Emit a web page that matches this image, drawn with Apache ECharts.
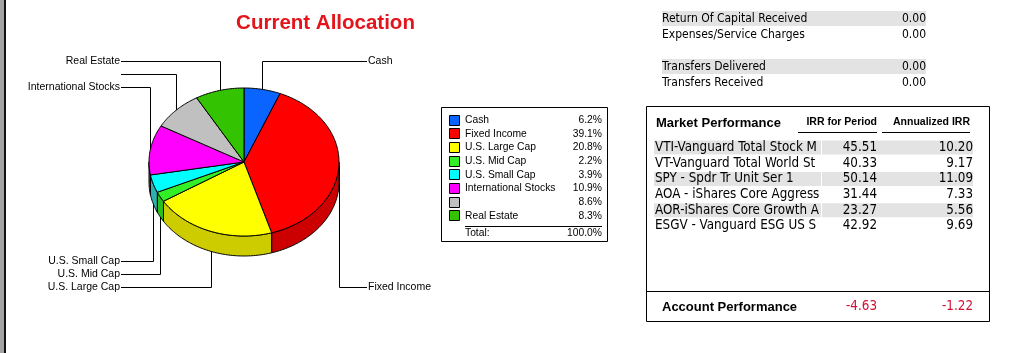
<!DOCTYPE html>
<html><head><meta charset="utf-8">
<script src="https://cdn.jsdelivr.net/npm/echarts@6/dist/echarts.min.js"></script>
<style>html,body{margin:0;padding:0;background:#fff;overflow:hidden}#c{width:1032px;height:353px}</style>
</head><body><div id="c"></div>
<script>
// ---------- data ----------
const categories = ['Cash', 'Fixed Income', 'U.S. Large Cap', 'U.S. Mid Cap', 'U.S. Small Cap', 'International Stocks', '', 'Real Estate'];
const allocation = [6.2, 39.1, 20.8, 2.2, 3.9, 10.9, 8.6, 8.3];
const sliceColors = ['#0A64FF', '#FF0000', '#FFFF00', '#33F026', '#00FFFF', '#FF00FF', '#C0C0C0', '#33C300'];
const sideColors  = ['#0850CC', '#CC0000', '#CCCC00', '#28C01E', '#2FB0B0', '#CC00CC', '#9A9A9A', '#289C00'];

const incomeLabels = ['Return Of Capital Received', 'Expenses/Service Charges', 'Transfers Delivered', 'Transfers Received'];
const incomeValues = [0.00, 0.00, 0.00, 0.00];

const holdings = ['VTI-Vanguard Total Stock Mar', 'VT-Vanguard Total World Sto', 'SPY - Spdr Tr Unit Ser 1', 'AOA - iShares Core Aggressive', 'AOR-iShares Core Growth Al', 'ESGV - Vanguard ESG US Sto'];
const irrPeriod = [45.51, 40.33, 50.14, 31.44, 23.27, 42.92];
const irrAnnual = [10.20, 9.17, 11.09, 7.33, 5.56, 9.69];
const accountIrr = [-4.63, -1.22];

// ---------- derived ----------
const total = allocation.reduce((a, b) => a + b, 0);
const startAngles = [];
(function () { let acc = 0; allocation.forEach(v => { startAngles.push(acc / total * 360); acc += v; }); })();
const mids = allocation.map((v, i) => startAngles[i] + v / total * 180);
const leaderInfo = mids.map((m, i) => {
  const r = m * Math.PI / 180;
  const up = Math.cos(r) >= 0;
  return { i, up, left: Math.sin(r) < 0, dist: up ? Math.min(m, 360 - m) : Math.abs(m - 180) };
});
leaderInfo.forEach(a => {
  a.rank = leaderInfo.filter(b => b.up === a.up && b.left === a.left && b.dist < a.dist).length;
});

// ---------- layout/style ----------
const DEPTH = 20;
const LEAD = { upperY: 61, lowerY: 287, step: 13, leftX: 121, rightX: 367 };
const F_SMALL = '10.5px "Liberation Sans", Arial, sans-serif';
const F_LEG = '10.3px "Liberation Sans", Arial, sans-serif';
const F_TAB = '12px "DejaVu Sans Condensed", "DejaVu Sans", sans-serif';
const F_ROW = '13.3px "DejaVu Sans Condensed", "DejaVu Sans", sans-serif';
const F_HEAD = 'bold 13px "Liberation Sans", Arial, sans-serif';
const F_COL = 'bold 10.5px "Liberation Sans", Arial, sans-serif';
const ROWBG = '#E3E3E3';

const chart = echarts.init(document.getElementById('c'));

function renderSlice(params, api) {
  const i = params.dataIndex;
  const a1 = startAngles[i];
  const a2 = a1 + api.value(2) / total * 360;
  const P = deg => { const r = deg * Math.PI / 180; return api.coord([Math.sin(r), Math.cos(r)]); };
  const c = api.coord([0, 0]);
  const children = [];
  // top face
  const pts = [c];
  for (let d = a1; d < a2; d += 1) pts.push(P(d));
  pts.push(P(a2));
  children.push({ type: 'polygon', z2: 3, shape: { points: pts },
    style: { fill: sliceColors[i], stroke: '#000', lineWidth: 1 } });
  // side wall (front half only)
  const s1 = Math.max(a1, 90), s2 = Math.min(a2, 270);
  if (s2 > s1) {
    const arc = [];
    for (let d = s1; d < s2; d += 1) arc.push(P(d));
    arc.push(P(s2));
    const side = arc.concat(arc.slice().reverse().map(p => [p[0], p[1] + DEPTH]));
    children.push({ type: 'polygon', z2: 2, shape: { points: side },
      style: { fill: sideColors[i], stroke: '#000', lineWidth: 1 } });
  }
  // leader line + label
  const info = leaderInfo[i];
  const anchor = P(mids[i]);
  const ax = Math.round(anchor[0]) + 0.5;
  const ly = Math.round(info.up ? LEAD.upperY + info.rank * LEAD.step : LEAD.lowerY - info.rank * LEAD.step) + 0.5;
  const ex = info.left ? LEAD.leftX : LEAD.rightX;
  children.push({ type: 'polyline', z2: 0, shape: { points: [[ax, anchor[1]], [ax, ly], [ex, ly]] },
    style: { stroke: '#000', lineWidth: 1, fill: null } });
  children.push({ type: 'text', z2: 0, style: {
    text: categories[i], x: info.left ? ex - 1 : ex + 1, y: ly,
    align: info.left ? 'right' : 'left', verticalAlign: 'middle', font: F_SMALL, fill: '#000' } });
  return { type: 'group', children };
}

// ---------- graphic elements (legend box and tables) ----------
const g = [];
// left border
g.push({ type: 'rect', shape: { x: 0, y: 0, width: 4, height: 353 }, style: { fill: '#A3A3A3' } });
g.push({ type: 'rect', shape: { x: 4, y: 0, width: 2, height: 353 }, style: { fill: '#111' } });
// title
g.push({ type: 'text', x: 325.5, y: 23.5, style: { text: 'Current Allocation', align: 'center', verticalAlign: 'middle',
  font: 'bold 20.5px "Liberation Sans", Arial, sans-serif', fill: '#E3141B' } });

// legend box
g.push({ type: 'rect', shape: { x: 441.5, y: 107.5, width: 166, height: 134 }, style: { fill: 'none', stroke: '#000', lineWidth: 1 } });
categories.forEach((name, i) => {
  const y = 120 + i * 13.67;
  g.push({ type: 'rect', shape: { x: 449.5, y: Math.round(y - 5.5) + 0.5, width: 10, height: 10 },
    style: { fill: sliceColors[i], stroke: '#000', lineWidth: 1 } });
  g.push({ type: 'text', x: 465, y: y, style: { text: name, align: 'left', verticalAlign: 'middle', font: F_LEG, fill: '#000' } });
  g.push({ type: 'text', x: 602, y: y, style: { text: allocation[i].toFixed(1) + '%', align: 'right', verticalAlign: 'middle', font: F_LEG, fill: '#000' } });
});
g.push({ type: 'line', shape: { x1: 465, y1: 226.5, x2: 602, y2: 226.5 }, style: { stroke: '#000', lineWidth: 1 } });
g.push({ type: 'text', x: 465, y: 233, style: { text: 'Total:', align: 'left', verticalAlign: 'middle', font: F_LEG, fill: '#000' } });
g.push({ type: 'text', x: 602, y: 233, style: { text: total.toFixed(1) + '%', align: 'right', verticalAlign: 'middle', font: F_LEG, fill: '#000' } });

// income table
const incomeY = [18.5, 34.5, 66.5, 82.5];
incomeLabels.forEach((name, i) => {
  const y = incomeY[i];
  if (i % 2 === 0) g.push({ type: 'rect', shape: { x: 662, y: y - 7.5, width: 264, height: 15 }, style: { fill: ROWBG } });
  g.push({ type: 'text', x: 662, y: y, style: { text: name, align: 'left', verticalAlign: 'middle', font: F_TAB, fill: '#000' } });
  g.push({ type: 'text', x: 926, y: y, style: { text: incomeValues[i].toFixed(2), align: 'right', verticalAlign: 'middle', font: F_TAB, fill: '#000' } });
});

// market performance box
g.push({ type: 'rect', shape: { x: 646.5, y: 106.5, width: 343, height: 215 }, style: { fill: 'none', stroke: '#000', lineWidth: 1 } });
g.push({ type: 'line', shape: { x1: 646.5, y1: 291.5, x2: 989.5, y2: 291.5 }, style: { stroke: '#000', lineWidth: 1 } });
g.push({ type: 'text', x: 656, y: 123, style: { text: 'Market Performance', align: 'left', verticalAlign: 'middle', font: F_HEAD, fill: '#000' } });
g.push({ type: 'text', x: 877, y: 122, style: { text: 'IRR for Period', align: 'right', verticalAlign: 'middle', font: F_COL, fill: '#000' } });
g.push({ type: 'text', x: 970, y: 122, style: { text: 'Annualized IRR', align: 'right', verticalAlign: 'middle', font: F_COL, fill: '#000' } });
g.push({ type: 'line', shape: { x1: 798, y1: 132.5, x2: 877, y2: 132.5 }, style: { stroke: '#000', lineWidth: 1 } });
g.push({ type: 'line', shape: { x1: 882, y1: 132.5, x2: 970, y2: 132.5 }, style: { stroke: '#000', lineWidth: 1 } });
holdings.forEach((name, i) => {
  const y = 147.5 + i * 15.7;
  if (i % 2 === 0) {
    g.push({ type: 'rect', shape: { x: 654, y: y - 7, width: 167, height: 14 }, style: { fill: ROWBG } });
    g.push({ type: 'rect', shape: { x: 822, y: y - 7, width: 151, height: 14 }, style: { fill: ROWBG } });
  }
  g.push({ type: 'text', x: 655, y: y, style: { text: name, align: 'left', verticalAlign: 'middle', font: F_ROW, fill: '#000',
    width: 166, overflow: 'truncate', ellipsis: '' } });
  g.push({ type: 'text', x: 877, y: y, style: { text: irrPeriod[i].toFixed(2), align: 'right', verticalAlign: 'middle', font: F_ROW, fill: '#000' } });
  g.push({ type: 'text', x: 973, y: y, style: { text: irrAnnual[i].toFixed(2), align: 'right', verticalAlign: 'middle', font: F_ROW, fill: '#000' } });
});
g.push({ type: 'text', x: 662, y: 307, style: { text: 'Account Performance', align: 'left', verticalAlign: 'middle', font: F_HEAD, fill: '#000' } });
g.push({ type: 'text', x: 877, y: 307, style: { text: accountIrr[0].toFixed(2), align: 'right', verticalAlign: 'middle', font: F_ROW, fill: '#D21034' } });
g.push({ type: 'text', x: 973, y: 307, style: { text: accountIrr[1].toFixed(2), align: 'right', verticalAlign: 'middle', font: F_ROW, fill: '#D21034' } });

chart.setOption({
  backgroundColor: '#fff',
  animation: false,
  grid: { left: 149, top: 88, width: 190, height: 148 },
  xAxis: { type: 'value', min: -1, max: 1, show: false },
  yAxis: { type: 'value', min: -1, max: 1, show: false },
  graphic: g,
  series: [{
    type: 'custom',
    name: 'Current Allocation',
    coordinateSystem: 'cartesian2d',
    encode: { x: 0, y: 1 },
    data: allocation.map(v => [0, 0, v]),
    renderItem: renderSlice,
    clip: false
  }]
});
</script>
</body></html>
